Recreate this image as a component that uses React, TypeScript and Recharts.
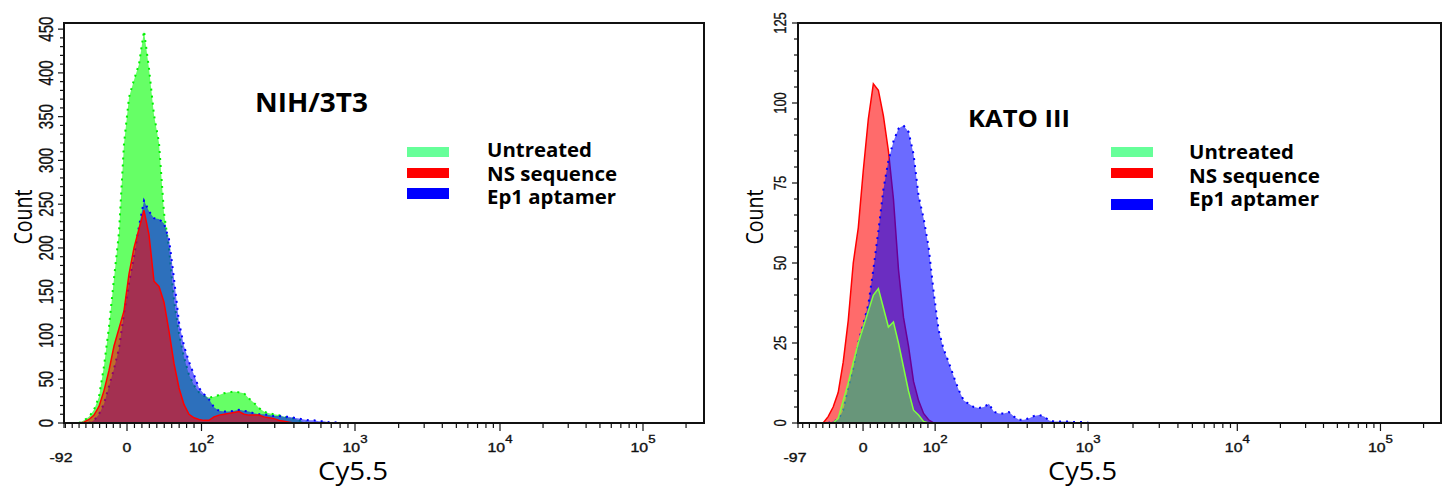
import { AreaChart, Area, XAxis, YAxis, ReferenceArea } from 'recharts';

const seriesNames = ['Untreated', 'NS sequence', 'Ep1 aptamer'];
const legendColors = ['#66ff99', '#ff0000', '#0000ff'];

// NIH/3T3 — counts per display channel (256-channel biexponential scale), every 2nd channel
const nihChannels = [6, 8, 10, 12, 14, 16, 18, 20, 22, 24, 26, 28, 30, 32, 34, 36, 38, 40, 42, 44, 46, 48, 50, 52, 54, 56, 58, 60, 62, 64, 66, 68, 70, 72, 74, 76, 78, 80, 82, 84, 86, 88, 90, 92, 94, 96, 98, 100, 102, 104, 106, 108, 110];
const nihUntreated = [0, 3, 7, 15, 30, 65, 110, 165, 218, 319, 372, 392, 410, 448, 405, 352, 320, 240, 200, 140, 102, 75, 55, 43, 35, 31, 29, 30, 32, 34, 35, 36, 35, 34, 28, 23, 17, 13, 11, 10, 9, 7, 6, 5, 3, 1, 0, 0, 0, 0, 0, 0, 0];
const nihNS = [0, 1, 4, 9, 19, 37, 60, 88, 108, 128, 170, 200, 222, 243, 215, 162, 156, 138, 105, 68, 40, 21, 10, 6, 4, 3, 3, 7, 9, 10, 11, 12, 13, 10, 9, 9, 9, 7, 6, 5, 3, 2, 1, 0, 0, 0, 0, 0, 0, 0, 0, 0, 0];
const nihEp1 = [0, 0, 0, 3, 10, 22, 42, 62, 85, 125, 160, 190, 225, 254, 242, 234, 233, 228, 210, 165, 115, 88, 70, 55, 40, 33, 27, 18, 14, 13, 13, 14, 15, 14, 13, 11, 10, 10, 9, 8, 8, 7, 7, 6, 5, 4, 3, 3, 2, 2, 1, 1, 0];

// KATO III
const katoChannels = [10, 12, 14, 16, 18, 20, 22, 24, 26, 28, 30, 32, 34, 36, 38, 40, 42, 44, 46, 48, 50, 52, 54, 56, 58, 60, 62, 64, 66, 68, 70, 72, 74, 76, 78, 80, 82, 84, 86, 88, 90, 92, 94, 96, 98, 100, 102, 104, 106, 108, 110, 112, 114, 116];
const katoUntreated = [0, 0, 0, 1.5, 7, 12.5, 19, 25, 30, 35, 40, 42, 36, 30, 31.6, 25, 17.5, 10, 4, 2.5, 0.5, 0, 0, 0, 0, 0, 0, 0, 0, 0, 0, 0, 0, 0, 0, 0, 0, 0, 0, 0, 0, 0, 0, 0, 0, 0, 0, 0, 0, 0, 0, 0, 0, 0];
const katoNS = [0, 2, 5, 9.5, 19, 32, 50, 61, 79, 95, 106, 104, 96, 85, 70, 48, 33, 24, 13, 7, 3, 1, 0, 0, 0, 0, 0, 0, 0, 0, 0, 0, 0, 0, 0, 0, 0, 0, 0, 0, 0, 0, 0, 0, 0, 0, 0, 0, 0, 0, 0, 0, 0, 0];
const katoEp1 = [0, 0, 0.5, 1, 4, 11, 17, 25, 31, 37, 48, 60, 73, 82, 88, 92, 93, 91, 84, 71, 64, 55, 41, 29, 23, 19, 14.5, 10.3, 7, 6, 5, 4.7, 5, 6, 3.5, 3, 3, 3.4, 2, 1, 1, 1.5, 2.2, 2.5, 2, 0.8, 0.5, 0.5, 0.5, 0.5, 0.3, 0.3, 0.3, 0];

// where 0, 10^2 .. 10^5 fall on the channel scale of each plot
type Scale = { min: number; zero: number; decades: number[] };
const nihScale: Scale = { min: -92, zero: 25.2, decades: [55, 116.4, 174.4, 231.6] };
const katoScale: Scale = { min: -97, zero: 25.9, decades: [54.6, 115.5, 174.9, 231.9] };
const decadeExps = ['2', '3', '4', '5'];
const linearMinor = [-90, -80, -70, -60, -50, -40, -30, -20, -10, 10, 20, 30, 40, 50, 60, 70, 80, 90];
const logMinor = [200, 300, 400, 500, 600, 700, 800, 900, 2000, 3000, 4000, 5000, 6000, 7000, 8000, 9000,
  20000, 30000, 40000, 50000, 60000, 70000, 80000, 90000, 200000];

const CHANNELS = 256;
const TICK_FONT = "'Liberation Sans', Arial, sans-serif";
const SANS = "'Open Sans', sans-serif";

function toChannel(v: number, s: Scale) {
  if (v <= 0) return s.zero * (1 - v / s.min);
  if (v <= 100) return s.zero + (s.decades[0] - s.zero) * v / 100;
  const d = Math.log10(v) - 2;
  const i = Math.min(Math.floor(d), s.decades.length - 2);
  return s.decades[i] + (s.decades[i + 1] - s.decades[i]) * (d - i);
}

type Major = { ch: number; text: string; sup?: string; low?: boolean };

function majorsFor(s: Scale): Major[] {
  return [
    { ch: 0, text: String(s.min), low: true },
    { ch: s.zero, text: '0' },
    ...decadeExps.map((e, i) => ({ ch: s.decades[i], text: '10', sup: e })),
  ];
}

function xTicksFor(s: Scale) {
  const minor = [...linearMinor.filter(v => v > s.min), ...logMinor].map(v => toChannel(v, s));
  return [...majorsFor(s).map(m => m.ch), ...minor].sort((a, b) => a - b);
}

// blank out zero runs outside a series' range so outlines don't trace the axis
function trim(vals: number[]) {
  const first = vals.findIndex(v => v > 0);
  let last = vals.length - 1;
  while (last > 0 && vals[last] <= 0) last--;
  return vals.map((v, i) => (i < first - 1 || i > last + 1 ? null : v));
}

function renderXTick(props: any, majors: Major[]) {
  const { x, y, payload } = props;
  const m = majors.find(t => Math.abs(t.ch - payload.value) < 1e-6);
  return (
    <g key={`xt-${payload.value}`}>
      <line x1={x} x2={x} y1={y} y2={y + (m && !m.low ? 8 : 5)} stroke="#111" strokeWidth={1.2} />
      {m && (
        <text
          transform={`translate(${m.low ? x - 3 : x},${y + (m.low ? 39.3 : 28.7)}) scale(1.32,1)`}
          textAnchor="middle" fontSize={12} fontFamily={TICK_FONT} fill="#111"
          stroke="#111" strokeWidth={0.35}
        >
          {m.text}
          {m.sup && <tspan dy={-8.7} fontSize={10}>{m.sup}</tspan>}
        </text>
      )}
    </g>
  );
}

function renderYTick(props: any, majorStep: number, gap: number, size: number, stretch: number) {
  const { x, y, payload } = props;
  const major = payload.value % majorStep === 0;
  return (
    <g key={`yt-${payload.value}`}>
      <line x1={x - (major ? 6 : 4)} x2={x} y1={y} y2={y} stroke="#111" strokeWidth={1.2} />
      {major && (
        <text
          transform={`translate(${x - gap},${y}) scale(${stretch},1) rotate(-90)`}
          textAnchor="middle" fontSize={size} fontFamily={TICK_FONT} fill="#111"
          stroke="#111" strokeWidth={0.25}
        >
          {payload.value}
        </text>
      )}
    </g>
  );
}

type Layer = { key: string; stroke: string; fill: string; opacity: number; dash?: string; width: number };

interface HistProps {
  left: number;
  width: number;
  yAxisWidth: number;
  marginRight: number;
  channels: number[];
  untreated: number[];
  ns: number[];
  ep1: number[];
  scale: Scale;
  yMax: number;
  majorStep: number;
  minorStep: number;
  yLabelGap: number;
  yLabelSize: number;
  yLabelStretch: number;
  layers: Layer[];
}

function Histogram(p: HistProps) {
  const u = trim(p.untreated), n = trim(p.ns), e = trim(p.ep1);
  const data = p.channels.map((ch, i) => ({ ch, untreated: u[i], ns: n[i], ep1: e[i] }));
  const majors = majorsFor(p.scale);
  const yTicks: number[] = [];
  for (let v = 0; v <= p.yMax; v += p.minorStep) yTicks.push(v);

  return (
    <div style={{ position: 'absolute', left: p.left, top: 0 }}>
      <AreaChart width={p.width} height={487} data={data}
        margin={{ top: 23, right: p.marginRight, bottom: 0, left: 0 }}>
        <XAxis dataKey="ch" type="number" domain={[0, CHANNELS]} allowDataOverflow
          ticks={xTicksFor(p.scale)} interval={0} height={64}
          tickSize={0} tickMargin={0} tickLine={false} axisLine={false}
          tick={(t: any) => renderXTick(t, majors)} />
        <YAxis type="number" domain={[0, p.yMax]} allowDataOverflow
          ticks={yTicks} interval={0} width={p.yAxisWidth}
          tickSize={0} tickMargin={0} tickLine={false} axisLine={false}
          tick={(t: any) => renderYTick(t, p.majorStep, p.yLabelGap, p.yLabelSize, p.yLabelStretch)} />
        {p.layers.map(l => (
          <Area key={l.key} dataKey={l.key} type="linear" stroke={l.stroke} strokeWidth={l.width}
            strokeDasharray={l.dash} fill={l.fill} fillOpacity={l.opacity}
            dot={false} activeDot={false} isAnimationActive={false} />
        ))}
        <ReferenceArea x1={0} x2={CHANNELS} y1={0} y2={p.yMax} fill="none"
          stroke="#111" strokeWidth={2} ifOverflow="visible" />
      </AreaChart>
    </div>
  );
}

const nihLayers: Layer[] = [
  { key: 'untreated', stroke: '#00f000', fill: '#00ff00', opacity: 0.6, dash: '2 5', width: 2 },
  { key: 'ep1', stroke: '#0000ff', fill: '#0000ff', opacity: 0.56, dash: '2 5', width: 2 },
  { key: 'ns', stroke: '#ff0000', fill: '#ff0000', opacity: 0.57, width: 1.5 },
];
const katoLayers: Layer[] = [
  { key: 'ns', stroke: '#ff0000', fill: '#ff0000', opacity: 0.58, width: 1.5 },
  { key: 'ep1', stroke: '#0000ff', fill: '#0000ff', opacity: 0.58, dash: '2 5', width: 2 },
  { key: 'untreated', stroke: '#80ff40', fill: '#66ff33', opacity: 0.5, width: 1.5 },
];

interface LabelProps {
  title: string;
  titleX: number; titleY: number; titleSize: number; titleLen: number;
  swatchX: number; swatchYs: number[]; swatchHs: number[];
  textX: number; textYs: number[]; textLens: number[];
  countX: number; countStretch: number;
  cyX: number; cyLen: number;
}

function PanelLabels(p: LabelProps) {
  return (
    <g>
      <text x={p.titleX} y={p.titleY} fontSize={p.titleSize} fontWeight={700} fontFamily={SANS}
        textLength={p.titleLen} lengthAdjust="spacingAndGlyphs" fill="#000">{p.title}</text>
      {seriesNames.map((name, i) => (
        <g key={name}>
          <rect x={p.swatchX} y={p.swatchYs[i]} width={42} height={p.swatchHs[i]} fill={legendColors[i]} />
          <text x={p.textX} y={p.textYs[i]} fontSize={18.8} fontWeight={700} fontFamily={SANS}
            textLength={p.textLens[i]} lengthAdjust="spacingAndGlyphs" fill="#000">{name}</text>
        </g>
      ))}
      <text transform={`translate(${p.countX},217) scale(${p.countStretch},1) rotate(-90)`}
        textAnchor="middle" fontSize={19.5} fontFamily={SANS} textLength={55}
        lengthAdjust="spacingAndGlyphs" fill="#000">Count</text>
      <text x={p.cyX} y={480} fontSize={25} fontFamily={SANS} textLength={p.cyLen}
        lengthAdjust="spacingAndGlyphs" fill="#000">Cy5.5</text>
    </g>
  );
}

export default function App() {
  return (
    <div style={{ position: 'absolute', left: 0, top: 0, width: 1445, height: 487, background: '#fff', overflow: 'hidden' }}>
      <Histogram left={0} width={720} yAxisWidth={64} marginRight={16}
        channels={nihChannels} untreated={nihUntreated} ns={nihNS} ep1={nihEp1}
        scale={nihScale} yMax={457} majorStep={50} minorStep={10}
        yLabelGap={10.7} yLabelSize={15} yLabelStretch={1.4} layers={nihLayers} />
      <Histogram left={730} width={715} yAxisWidth={68} marginRight={4}
        channels={katoChannels} untreated={katoUntreated} ns={katoNS} ep1={katoEp1}
        scale={katoScale} yMax={125} majorStep={25} minorStep={5}
        yLabelGap={12} yLabelSize={13} yLabelStretch={1.3} layers={katoLayers} />
      <svg width={1445} height={487} style={{ position: 'absolute', left: 0, top: 0, pointerEvents: 'none' }}>
        <PanelLabels title="NIH/3T3" titleX={255} titleY={111.7} titleSize={26} titleLen={113}
          swatchX={407} swatchYs={[147, 168, 188]} swatchHs={[10, 10, 11]}
          textX={487} textYs={[157.3, 180.8, 204.3]} textLens={[105, 130, 129]}
          countX={31.7} countStretch={1.35} cyX={318} cyLen={70} />
        <PanelLabels title="KATO III" titleX={968} titleY={126.7} titleSize={24} titleLen={102}
          swatchX={1111} swatchYs={[147, 168, 199]} swatchHs={[10, 10, 11]}
          textX={1189} textYs={[158.6, 182.5, 206.4]} textLens={[105, 131, 130]}
          countX={763.3} countStretch={1.2} cyX={1048} cyLen={69} />
      </svg>
    </div>
  );
}
